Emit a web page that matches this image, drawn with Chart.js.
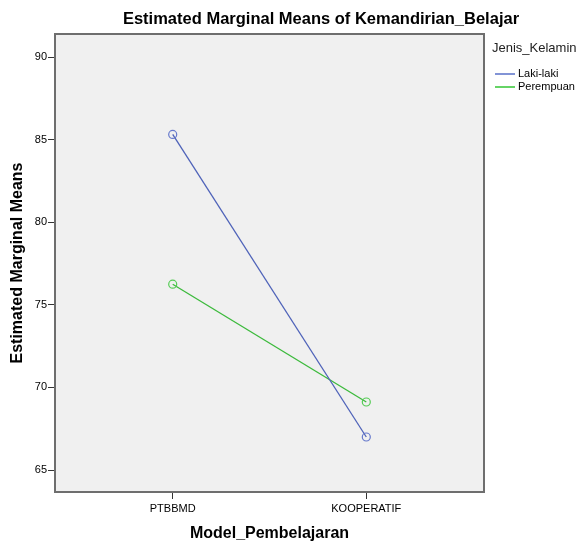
<!DOCTYPE html>
<html>
<head>
<meta charset="utf-8">
<script src="https://cdn.jsdelivr.net/npm/chart.js@4"></script>
<style>
  html, body { margin: 0; padding: 0; background: #fff; }
  canvas { display: block; }
</style>
</head>
<body>
<canvas id="emm" width="580" height="542"></canvas>
<script>
// values
const categories = ['PTBBMD', 'KOOPERATIF'];
const seriesNames = ['Laki-laki', 'Perempuan'];
const lakiLaki = [85.32, 67.0];
const perempuan = [76.25, 69.12];
const yTicks = [65, 70, 75, 80, 85, 90];

const FONT = "'Liberation Sans', Arial, sans-serif";
const lineColors = ['#4f63b9', '#3cba3c'];
const markColors = ['#6679cc', '#55cc55'];
const legendColors = ['#8294d6', '#66d466'];

function toPoints(vals) {
	return vals.map((v, i) => ({ x: i, y: v }));
}

// grey plot background, frame, chart title and legend box like SPSS
const spssDecor = {
	id: 'spssDecor',
	beforeDatasetsDraw(chart) {
		const { ctx, chartArea: a } = chart;
		ctx.save();
		ctx.fillStyle = '#f0f0f0';
		ctx.fillRect(a.left, a.top, a.right - a.left, a.bottom - a.top);
		ctx.restore();
	},
	afterDraw(chart) {
		const { ctx, chartArea: a } = chart;
		ctx.save();
		ctx.strokeStyle = '#6e6e6e';
		ctx.lineWidth = 2;
		ctx.strokeRect(a.left, a.top, a.right - a.left, a.bottom - a.top);

		ctx.fillStyle = '#000';
		ctx.font = 'bold 16.5px ' + FONT;
		ctx.textAlign = 'center';
		ctx.textBaseline = 'middle';
		ctx.fillText('Estimated Marginal Means of Kemandirian_Belajar', 321, 19);

		ctx.textAlign = 'left';
		ctx.fillStyle = '#222';
		ctx.font = '13px ' + FONT;
		ctx.fillText('Jenis_Kelamin', 492, 48);

		ctx.font = '11px ' + FONT;
		seriesNames.forEach((name, i) => {
			const y = 74 + i * 13;
			ctx.strokeStyle = legendColors[i];
			ctx.lineWidth = 2;
			ctx.beginPath();
			ctx.moveTo(495, y);
			ctx.lineTo(515, y);
			ctx.stroke();
			ctx.fillStyle = '#000';
			ctx.fillText(name, 518, y);
		});
		ctx.restore();
	}
};

const datasets = [lakiLaki, perempuan].map((vals, i) => ({
	label: seriesNames[i],
	data: toPoints(vals),
	borderColor: lineColors[i],
	borderWidth: 1.3,
	pointStyle: 'circle',
	pointRadius: 4,
	pointBorderWidth: 1.2,
	pointBorderColor: markColors[i],
	pointBackgroundColor: 'rgba(0,0,0,0)',
	tension: 0
}));

new Chart(document.getElementById('emm').getContext('2d'), {
	type: 'line',
	data: { datasets: datasets },
	plugins: [spssDecor],
	options: {
		responsive: false,
		animation: false,
		layout: { padding: { top: 34, right: 96, left: 0, bottom: 0 } },
		plugins: {
			legend: { display: false },
			tooltip: { enabled: false }
		},
		scales: {
			x: {
				type: 'linear',
				min: -0.608,
				max: 1.608,
				afterBuildTicks: (scale) => { scale.ticks = categories.map((c, i) => ({ value: i })); },
				afterFit: (scale) => { scale.height = 50; },
				ticks: {
					callback: (v) => categories[v],
					color: '#000',
					padding: 3,
					maxRotation: 0,
					font: { family: FONT, size: 11 }
				},
				grid: { drawOnChartArea: false, drawTicks: true, tickLength: 7, color: '#333' },
				border: { display: false },
				title: {
					display: true,
					text: 'Model_Pembelajaran',
					color: '#000',
					padding: 0,
					font: { family: FONT, size: 16, weight: 'bold', lineHeight: 1 }
				}
			},
			y: {
				min: 63.67,
				max: 91.4,
				afterBuildTicks: (scale) => { scale.ticks = yTicks.map(v => ({ value: v })); },
				afterFit: (scale) => { scale.width = 55; },
				ticks: {
					color: '#000',
					padding: 1,
					font: { family: FONT, size: 11 }
				},
				grid: { drawOnChartArea: false, drawTicks: true, tickLength: 7, color: '#333' },
				border: { display: false },
				title: {
					display: true,
					text: 'Estimated Marginal Means',
					color: '#000',
					padding: { top: 8, bottom: 0 },
					font: { family: FONT, size: 16, weight: 'bold' }
				}
			}
		}
	}
});
</script>
</body>
</html>
